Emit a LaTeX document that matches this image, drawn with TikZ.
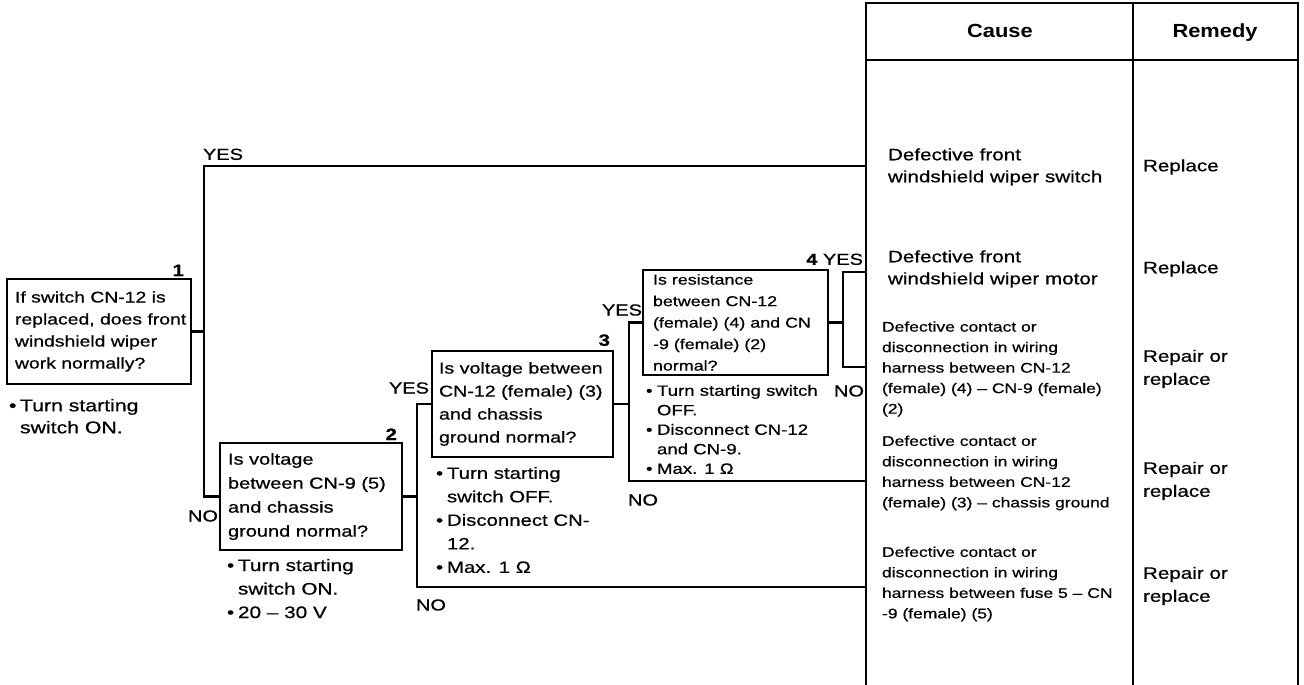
\documentclass[tikz,border=0pt]{standalone}
\usepackage{fontspec}
\setmainfont{Liberation Sans}[FakeStretch=1.25,FakeBold=0.6]
\newfontfamily\hdfont{Liberation Sans}[FakeStretch=1.15]
\newcommand{\myfs}[2]{\fontsize{#1}{#2}\selectfont}
\newcommand{\bitem}{\makebox[11pt][l]{•}}
\newcommand{\bindent}{\hspace*{11pt}}
\begin{document}
\begin{tikzpicture}[x=1pt,y=-1pt,
  every path/.style={line width=2.6pt},
  qbox/.style={draw, line width=2.6pt, inner sep=0pt, outer sep=0pt, anchor=north west},
  txt/.style={align=left, inner sep=0pt, outer sep=0pt},
  lbl/.style={inner sep=0pt, outer sep=0pt, font=\myfs{16}{18}},
  num/.style={inner sep=0pt, outer sep=0pt, font=\myfs{16.5}{18}\bfseries},
  hd/.style={inner sep=0pt, outer sep=0pt, anchor=base, font=\hdfont\myfs{19}{20}\bfseries},
  cause/.style={txt, anchor=west, font=\myfs{16.5}{22}},
  wire/.style={txt, anchor=west, font=\myfs{14}{20.5}},
  remedy/.style={txt, anchor=west, font=\myfs{16.5}{23}}
]
\useasboundingbox (0,0) rectangle (1304,685);

% ---- table ----
\coordinate (tTL) at (866,3);
\coordinate (tTR) at (1298,3);
\coordinate (tBL) at (866,685);
\coordinate (tBR) at (1298,685);
\coordinate (tTM) at (1133,3);
\coordinate (tBM) at (1133,685);
\coordinate (hL) at (866,60);
\coordinate (hR) at (1298,60);
\draw (tBL) -- (tTL) -- (tTR) -- (tBR);
\draw (tTM) -- (tBM);
\draw (hL) -- (hR);
\node[hd] (hcause) at (1000,38) {Cause};
\node[hd] (hremedy) at (1215,38) {Remedy};

% ---- question boxes ----
\node[qbox, minimum width=184pt, minimum height=105pt] (b1) at (7,279) {};
\node[qbox, minimum width=182pt, minimum height=107pt] (b2) at (220,443) {};
\node[qbox, minimum width=181pt, minimum height=106pt] (b3) at (432,351) {};
\node[qbox, minimum width=185pt, minimum height=105pt] (b4) at (643,270) {};

\node[txt, anchor=west, font=\myfs{15.5}{22}] (b1t) at ([xshift=8pt]b1.west)
  {If switch CN-12 is\\replaced, does front\\windshield wiper\\work normally?};
\node[txt, anchor=west, font=\myfs{16}{24}] (b2t) at ([xshift=8pt]b2.west)
  {Is voltage\\between CN-9 (5)\\and chassis\\ground normal?};
\node[txt, anchor=west, font=\myfs{15.7}{23}] (b3t) at ([xshift=7pt]b3.west)
  {Is voltage between\\CN-12 (female) (3)\\and chassis\\ground normal?};
\node[txt, anchor=west, font=\myfs{14.3}{21.5}] (b4t) at ([xshift=10pt]b4.west)
  {Is resistance\\between CN-12\\(female) (4) and CN\\-9 (female) (2)\\normal?};

% step numbers
\node[num, anchor=south east] (n1) at (184,276) {1};
\node[num, anchor=south east] (n2) at (397,440) {2};
\node[num, anchor=south east] (n3) at (610,346) {3};
\node[lbl, anchor=south east] (n4) at (863,265) {{\bfseries 4} YES};

% notes
\node[txt, anchor=north west, font=\myfs{17}{22}] (b1n) at (9,399)
  {\bitem Turn starting\\\bindent switch ON.};
\node[txt, anchor=north west, font=\myfs{16.6}{23.5}] (b2n) at (227,559)
  {\bitem Turn starting\\\bindent switch ON.\\\bitem 20 -- 30 V};
\node[txt, anchor=north west, font=\myfs{16.3}{23.5}] (b3n) at (436,467)
  {\bitem Turn starting\\\bindent switch OFF.\\\bitem Disconnect CN-\\\bindent 12.\\\bitem Max. 1 Ω};
\node[txt, anchor=north west, font=\myfs{14.9}{19.5}] (b4n) at (646,385)
  {\bitem Turn starting switch\\\bindent OFF.\\\bitem Disconnect CN-12\\\bindent and CN-9.\\\bitem Max. 1 Ω};

% ---- connectors ----
\coordinate (e1) at (866,166);
\coordinate (e2) at (866,272);
\coordinate (e3) at (866,367);
\coordinate (e4) at (866,481);
\coordinate (e5) at (866,587);
\path (b1.east) ++(13,0) coordinate (j1);
\path (b2.east) ++(15,0) coordinate (j2);
\path (b3.east) ++(16,0) coordinate (j3);
\path (b4.east) ++(15,0) coordinate (j4);

\draw (b1.east) -- (j1);
\draw (j1) |- (e1);
\draw (j1) |- (b2.west);
\draw (b2.east) -- (j2);
\draw (j2) |- (b3.west);
\draw (j2) |- (e5);
\draw (b3.east) -- (j3);
\draw (j3) |- (b4.west);
\draw (j3) |- (e4);
\draw (b4.east) -- (j4);
\draw (j4) |- (e2);
\draw (j4) |- (e3);

% YES / NO labels
\node[lbl, anchor=south west] (y1) at (203,160) {YES};
\node[lbl, anchor=east] (no1) at (218,516) {NO};
\node[lbl, anchor=east] (y2) at (429,388) {YES};
\node[lbl, anchor=west] (no2) at (416,605) {NO};
\node[lbl, anchor=east] (y3) at (642,310) {YES};
\node[lbl, anchor=west] (no3) at (628,500) {NO};
\node[lbl, anchor=east] (no4) at (864,391) {NO};

% ---- table contents ----
\node[cause] (c1) at (888,167) {Defective front\\windshield wiper switch};
\node[remedy] (r1) at (1143,167) {Replace};
\node[cause] (c2) at (888,269) {Defective front\\windshield wiper motor};
\node[remedy] (r2) at (1143,269) {Replace};
\node[wire] (c3) at (882,369) {Defective contact or\\disconnection in wiring\\harness between CN-12\\(female) (4) -- CN-9 (female)\\(2)};
\node[remedy] (r3) at (1143,369) {Repair or\\replace};
\node[wire] (c4) at (882,473) {Defective contact or\\disconnection in wiring\\harness between CN-12\\(female) (3) -- chassis ground};
\node[remedy] (r4) at (1143,481) {Repair or\\replace};
\node[wire] (c5) at (882,584) {Defective contact or\\disconnection in wiring\\harness between fuse 5 -- CN\\-9 (female) (5)};
\node[remedy] (r5) at (1143,586) {Repair or\\replace};
\end{tikzpicture}
\end{document}
